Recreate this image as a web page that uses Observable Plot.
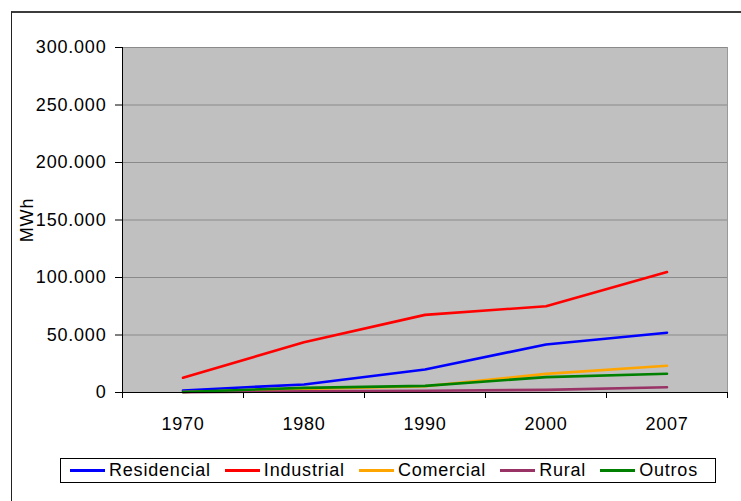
<!DOCTYPE html>
<html><head><meta charset="utf-8">
<script src="https://cdn.jsdelivr.net/npm/d3@7"></script>
<script src="https://cdn.jsdelivr.net/npm/@observablehq/plot@0.6"></script>
<style>
body{margin:0;background:#fff;font-family:"Liberation Sans",Arial,sans-serif;}
#wrap{position:relative;width:741px;height:501px;overflow:hidden;}
#frame{position:absolute;left:11px;top:11px;width:800px;height:600px;border-top:2px solid #3c3c3c;border-left:1px solid #222;}
#chart{position:absolute;left:0;top:0;}
#legend{position:absolute;left:60px;top:458px;width:656px;height:25px;border:1px solid #000;display:flex;align-items:center;font-size:18px;letter-spacing:0.8px;box-sizing:border-box;padding-left:9px;}
.item{display:flex;align-items:center;margin-right:14px;}
.sw{width:35px;height:3px;margin-right:4px;}
</style></head>
<body>
<div id="wrap"><div id="frame"></div><div id="chart"></div><div id="legend"></div></div>
<script>
const years = ["1970","1980","1990","2000","2007"];
const seriesNames = ["Residencial","Industrial","Comercial","Rural","Outros"];
const seriesColors = ["#0000ff","#ff0000","#ffa500","#993366","#008000"];
const residencial = [1800, 7000, 20000, 41800, 52000];
const industrial = [12800, 43700, 67500, 75000, 104800];
const comercial = [500, 3000, 5500, 16200, 23300];
const rural = [300, 1000, 1500, 2300, 4600];
const outros = [500, 4000, 5800, 13400, 16300];
const yTicks = [0, 50000, 100000, 150000, 200000, 250000, 300000];

const allSeries = [residencial, industrial, comercial, rural, outros];
const data = [];
allSeries.forEach((vals, s) => vals.forEach((v, i) => data.push({series: seriesNames[s], i, year: years[i], value: v})));

const fmt = v => d3.format(",")(v).replace(/,/g, ".");
const boundaries = d3.range(years.length + 1).map(k => k - 0.5);

const chart = Plot.plot({
  width: 741,
  height: 440,
  marginLeft: 122,
  marginRight: 14,
  marginTop: 47,
  marginBottom: 48,
  style: {fontFamily: "'Liberation Sans', Arial, sans-serif", fontSize: "18px", letterSpacing: "0.8px", background: "transparent", color: "#000"},
  x: {type: "linear", domain: [-0.5, years.length - 0.5]},
  y: {domain: [0, 300000]},
  color: {domain: seriesNames, range: seriesColors},
  marks: [
    Plot.frame({fill: "#c0c0c0", stroke: "#999"}),
    Plot.ruleY(yTicks.filter(t => t > 0), {stroke: "#8a8a8a", strokeWidth: 1}),
    Plot.axisY({ticks: yTicks, tickSize: 7, tickPadding: 9, tickFormat: fmt, label: null, fontSize: 18, stroke: "#000"}),
    Plot.axisX({ticks: boundaries, tickSize: 6, tickFormat: () => "", label: null, stroke: "#000"}),
    Plot.axisX({ticks: d3.range(years.length), tickSize: 0, tickPadding: 25, tickFormat: i => years[i], label: null, fontSize: 18}),
    Plot.line(data, {x: "i", y: "value", z: "series", stroke: "series", strokeWidth: 2.6}),
    Plot.ruleX([-0.5], {stroke: "#000", strokeWidth: 1}),
    Plot.ruleY([0], {stroke: "#000", strokeWidth: 1}),
    Plot.text(["MWh"], {frameAnchor: "left", textAnchor: "middle", dx: -95, rotate: -90, fontSize: 18, fill: "#000"})
  ]
});
document.getElementById("chart").appendChild(chart);

const legend = document.getElementById("legend");
seriesNames.forEach((name, k) => {
  const it = document.createElement("div");
  it.className = "item";
  const sw = document.createElement("div");
  sw.className = "sw";
  sw.style.background = seriesColors[k];
  const t = document.createElement("span");
  t.textContent = name;
  it.appendChild(sw); it.appendChild(t);
  legend.appendChild(it);
});
</script>
</body></html>
